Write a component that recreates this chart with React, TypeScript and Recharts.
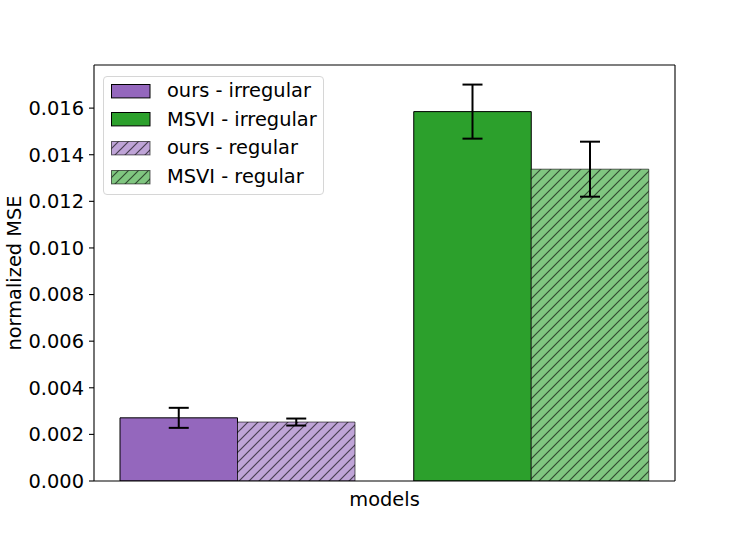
import React from 'react';
import { BarChart, Bar, XAxis, YAxis, ErrorBar, Cell, Legend } from 'recharts';

const categories = ['ours', 'MSVI'];
const irregularValues = [0.00271, 0.01585];
const irregularErrors = [0.00043, 0.00116];
const regularValues = [0.00253, 0.01338];
const regularErrors = [0.00015, 0.00118];
const yTicks = [0, 0.002, 0.004, 0.006, 0.008, 0.01, 0.012, 0.014, 0.016];

const solidColors = ['#9467bd', '#2ca02c'];
const hatchIds = ['hatchPurple', 'hatchGreen'];
const hatchFills = ['#bfa4d7', '#80c680'];

const legendItems = [
  { label: 'ours - irregular', fill: '#9467bd', hatch: false, stroke: '#000000' },
  { label: 'MSVI - irregular', fill: '#2ca02c', hatch: false, stroke: '#000000' },
  { label: 'ours - regular', fill: '#bfa4d7', hatch: true, stroke: 'rgba(0,0,0,0.6)' },
  { label: 'MSVI - regular', fill: '#80c680', hatch: true, stroke: 'rgba(0,0,0,0.6)' },
];

const data = categories.map((c, i) => ({
  name: c,
  irregular: irregularValues[i],
  irregularErr: irregularErrors[i],
  regular: regularValues[i],
  regularErr: regularErrors[i],
}));

const FONT = '"DejaVu Sans", sans-serif';
const FS = 19.4;
const H = 10;

const HatchPattern = ({ id, fill }: { id: string; fill: string }) => (
  <pattern id={id} patternUnits="userSpaceOnUse" width={H} height={H}>
    <rect x={0} y={0} width={H} height={H} fill={fill} />
    <path
      d={`M0,${H} L${H},0 M${-H / 2},${H / 2} L${H / 2},${-H / 2} M${H / 2},${H * 1.5} L${H * 1.5},${H / 2}`}
      stroke="rgba(0,0,0,0.62)"
      strokeWidth={1.2}
    />
  </pattern>
);

const LegendBox = () => (
  <div
    style={{
      position: 'relative',
      width: 221,
      height: 119,
      boxSizing: 'border-box',
      border: '1px solid #d6d6d6',
      borderRadius: 4,
      background: 'rgba(255,255,255,0.8)',
      fontFamily: FONT,
      fontSize: FS,
      color: '#000',
    }}
  >
    {legendItems.map((it, i) => {
      const cy = 14.7 + i * 28.7;
      return (
        <React.Fragment key={it.label}>
          <svg
            width={41}
            height={16}
            style={{ position: 'absolute', left: 6, top: cy - 8 - 1 }}
          >
            <defs>
              <HatchPattern id={`lg${i}`} fill={it.fill} />
            </defs>
            <rect
              x={1.5}
              y={1.5}
              width={38.5}
              height={13.4}
              fill={it.hatch ? `url(#lg${i})` : it.fill}
              stroke={it.stroke}
              strokeWidth={1}
            />
          </svg>
          <div
            style={{
              position: 'absolute',
              left: 63,
              top: cy - 12.8,
              height: 24,
              lineHeight: '24px',
              whiteSpace: 'nowrap',
            }}
          >
            {it.label}
          </div>
        </React.Fragment>
      );
    })}
  </div>
);

const YLabel = (props: any) => {
  const vb = props.viewBox || {};
  const x = 20.5;
  const y = vb.y + vb.height / 2;
  return (
    <text
      x={x}
      y={y}
      transform={`rotate(-90, ${x}, ${y})`}
      textAnchor="middle"
      fontFamily={FONT}
      fontSize={FS}
      fill="#000"
    >
      normalized MSE
    </text>
  );
};

const XLabel = () => (
  <text x={384.5} y={506} textAnchor="middle" fontFamily={FONT} fontSize={FS} fill="#000">
    models
  </text>
);

export default function App() {
  return (
    <div style={{ position: 'absolute', left: 0, top: 0, width: 750, height: 540, background: '#fff' }}>
      <BarChart
        width={750}
        height={540}
        data={data}
        margin={{ top: 64, right: 74, left: 14, bottom: 19 }}
        barGap={0}
        barSize={117.5}
        style={{ fontFamily: FONT }}
      >
        <defs>
          {hatchIds.map((id, i) => (
            <HatchPattern key={id} id={id} fill={hatchFills[i]} />
          ))}
        </defs>
        <XAxis
          dataKey="name"
          height={40}
          tick={false}
          tickLine={false}
          axisLine={{ stroke: '#000', strokeWidth: 1.1 }}
          padding={{ left: -3, right: -3.5 }}
          label={<XLabel />}
        />
        <XAxis
          xAxisId="top"
          dataKey="name"
          orientation="top"
          height={1}
          tick={false}
          tickLine={false}
          axisLine={{ stroke: '#000', strokeWidth: 1.1 }}
        />
        <YAxis
          width={80}
          domain={[0, 0.01785]}
          ticks={yTicks}
          interval={0}
          allowDataOverflow
          tickFormatter={(v: number) => v.toFixed(3)}
          tick={{ fill: '#000', fontSize: FS, fontFamily: FONT }}
          tickSize={5}
          tickMargin={5}
          tickLine={{ stroke: '#000', strokeWidth: 1.1 }}
          axisLine={{ stroke: '#000', strokeWidth: 1.1 }}
          label={<YLabel />}
        />
        <YAxis
          yAxisId="right"
          orientation="right"
          width={1}
          domain={[0, 0.01785]}
          tick={false}
          tickLine={false}
          axisLine={{ stroke: '#000', strokeWidth: 1.1 }}
        />
        <Legend
          layout="horizontal"
          verticalAlign="middle"
          align="center"
          content={() => <LegendBox />}
          wrapperStyle={{ left: 103, top: 76, width: 221, height: 119 }}
        />
        <Bar dataKey="irregular" stroke="#000" strokeWidth={1} isAnimationActive={false}>
          {data.map((d, i) => (
            <Cell key={d.name} fill={solidColors[i]} />
          ))}
          <ErrorBar dataKey="irregularErr" width={10} stroke="#000" strokeWidth={2} />
        </Bar>
        <Bar dataKey="regular" stroke="rgba(0,0,0,0.6)" strokeWidth={1} isAnimationActive={false}>
          {data.map((d, i) => (
            <Cell key={d.name} fill={`url(#${hatchIds[i]})`} />
          ))}
          <ErrorBar dataKey="regularErr" width={10} stroke="#000" strokeWidth={2} />
        </Bar>
      </BarChart>
    </div>
  );
}
